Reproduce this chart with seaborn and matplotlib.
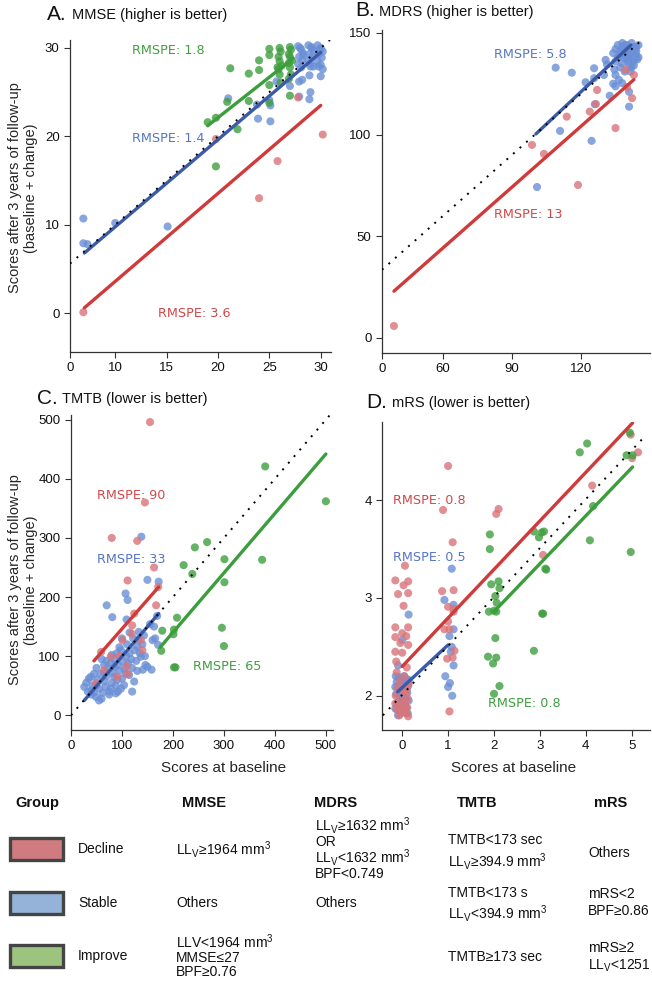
import seaborn as sns
import matplotlib.pyplot as plt
import pandas as pd
import numpy as np
from matplotlib.patches import Rectangle

sns.set_style("ticks")
plt.rcParams['font.family'] = ['Liberation Sans', 'DejaVu Sans']
plt.rcParams['mathtext.fontset'] = 'custom'
plt.rcParams['mathtext.rm'] = 'Liberation Sans'
plt.rcParams['mathtext.it'] = 'Liberation Sans:italic'
plt.rcParams['mathtext.bf'] = 'Liberation Sans:bold'

# ---------------- data ----------------
# A. MMSE
mmse_dec_x = [6.9, 19.8, 24.0, 25.8, 27.8, 30.2]
mmse_dec_y = [0.1, 19.7, 13.0, 17.2, 24.4, 20.2]
mmse_sta_x = [6.9, 6.9, 7.3, 10.0, 15.1, 21.0, 23.9, 23.8, 25.1, 25.1, 25.0, 25.7, 27.0, 27.9, 28.2,
              28.9, 29.0, 27.9, 28.9, 30.0, 29.0, 29.8,
              27.8, 28.1, 28.3, 27.9, 28.2, 27.8, 28.1, 28.0, 28.3,
              28.8, 29.1, 29.3, 28.9, 29.2, 28.8, 29.0, 29.3, 29.1,
              29.7, 30.0, 30.2, 29.8, 30.1, 29.7, 30.0, 30.2, 29.9]
mmse_sta_y = [10.7, 7.9, 7.8, 10.2, 9.8, 24.3, 22.0, 23.6, 23.5, 21.7, 24.1, 26.2, 25.7, 26.2, 26.4,
              24.2, 25.0, 24.5, 26.9, 26.8, 27.9, 27.9,
              30.2, 29.8, 29.4, 29.0, 28.6, 28.2, 27.8, 30.0, 29.2,
              30.3, 30.0, 29.7, 29.3, 29.0, 28.6, 28.2, 27.9, 30.1,
              30.3, 30.0, 29.6, 29.3, 28.9, 28.5, 28.1, 27.6, 29.8]
mmse_imp_x = [19.0, 19.8, 19.8, 20.9, 21.2, 21.9, 23.0, 23.0, 24.0, 24.0, 25.0, 25.0, 25.0, 25.0, 25.8,
              26.0, 26.1, 25.9, 26.0, 26.2, 25.9, 26.0, 26.1,
              27.0, 27.1, 26.9, 27.0, 27.2, 26.9, 27.0, 27.1, 26.9, 27.0]
mmse_imp_y = [21.6, 22.1, 16.6, 23.9, 27.7, 20.8, 27.1, 24.0, 28.6, 27.5, 29.9, 29.2, 23.8, 25.8, 27.8,
              30.0, 29.6, 29.0, 28.5, 28.0, 27.6, 27.0, 26.1,
              30.1, 29.8, 29.3, 29.0, 28.6, 28.3, 27.8, 27.0, 26.5, 24.6]
mmse_fit = {"Decline": ([7, 30], [0.6, 23.5]), "Stable": ([7, 30], [6.8, 29.5]),
            "Improve": ([19, 27.3], [21.2, 28.8])}

# B. MDRS
mdrs_dec_x = [38.7, 98.7, 103.9, 113.8, 118.7, 123.8, 127.0, 126.5, 135.0, 140.0, 142.2, 143.0, 139.4]
mdrs_dec_y = [5.9, 94.9, 90.5, 108.8, 75.2, 111.3, 121.9, 115.0, 103.2, 123.3, 117.9, 129.3, 131.8]
mdrs_sta_x = [100.9, 109.0, 116.0, 122.0, 125.7, 125.7, 130.0, 130.7, 131.3, 126.0, 132.5, 134.0, 135.0,
              136.5, 135.0, 137.9, 140.9, 140.9, 110.9, 124.6,
              134, 135, 136, 137, 138, 139, 140, 141, 142, 143, 144, 145, 135, 136.5, 138, 139.5, 141,
              142.5, 144, 137, 139, 141, 143, 145, 136, 138, 140, 142, 144, 134.5, 137.5, 140.5, 143.5,
              139, 141.5, 144.5, 142, 143, 140, 138.5]
mdrs_sta_y = [74.2, 132.9, 130.4, 125.7, 132.6, 127.7, 129.3, 136.7, 134.5, 114.9, 119.1, 125.0, 129.3,
              126.9, 123.7, 125.3, 113.7, 121.0, 101.8, 96.9,
              140, 142, 138, 141, 143, 139, 144, 142, 140, 143, 141, 144, 136, 138, 135, 137, 139,
              137, 139, 133, 131, 134, 136, 138, 144, 145, 141, 145, 143, 132, 140, 136, 142,
              144, 131, 137, 133, 134, 138, 142]
mdrs_fit = {"Decline": ([38.7, 143], [23, 127]), "Stable": ([100.4, 141.7], [100.3, 144])}

# C. TMTB
tmtb_dec_x = [155, 145, 80, 130, 163, 111, 167, 171, 124, 120, 101, 137, 59, 78, 65, 91, 111, 109, 49, 119, 95, 140]
tmtb_dec_y = [496, 360, 300, 295, 250, 228, 186, 217, 172, 152, 127, 127, 107, 99, 76, 65, 70, 83, 54, 138, 100, 110]
tmtb_sta_x = [138, 150, 172, 107, 111, 70, 81, 109, 163, 165, 171, 146, 158, 141, 169, 155, 133, 160, 98, 130,
              137, 85, 150,
              26, 33, 49, 62, 88, 91, 39, 65, 55, 78, 104, 114, 124, 30, 42, 45, 52, 58, 60, 68, 70, 72, 75,
              80, 82, 85, 88, 92, 95, 98, 100, 102, 105, 108, 110, 112, 115, 118, 120, 122, 125, 128, 132,
              135, 140, 143, 100, 95, 90, 80, 70, 65, 60, 50, 45, 35, 40, 55, 75, 85, 115, 120, 130, 145,
              40, 50, 65, 78, 92, 108]
tmtb_sta_y = [302, 229, 226, 206, 195, 186, 166, 162, 150, 130, 119, 85, 77, 77, 168, 154, 141, 127, 110, 116,
              99, 82, 82,
              48, 40, 31, 38, 37, 60, 65, 57, 45, 45, 51, 68, 57, 55, 50, 38, 60, 70, 28, 48, 66, 80, 35,
              55, 72, 95, 50, 85, 75, 45, 62, 90, 78, 100, 120, 88, 105, 95, 80, 130, 110, 92, 128,
              105, 120, 135, 130, 115, 105, 102, 92, 85, 95, 80, 70, 62, 42, 25, 40, 65, 140, 40, 75, 100,
              35, 50, 72, 88, 40, 70]
tmtb_imp_x = [381, 500, 375, 301, 301, 267, 243, 238, 221, 296, 300, 208, 179, 202, 201, 177, 202, 205]
tmtb_imp_y = [421, 362, 263, 264, 225, 293, 284, 239, 254, 148, 117, 165, 143, 145, 137, 109, 81, 81]
tmtb_fit = {"Decline": ([45, 172], [92, 217]), "Stable": ([26, 172], [25, 172]),
            "Improve": ([175, 500], [115, 442])}

# D. mRS
mrs_dec_x = [-0.15, 0.06, 0.03, 0.13, -0.09, 0.13, 0.03, -0.15, 0.13, 0.0, -0.15, 0.09, -0.04, 0.13, -0.15,
             0.0, -0.13,
             0.10, -0.12, 0.05, -0.05, 0.14, -0.10, 0.02, 0.08, -0.14, 0.12, -0.03, 0.06, -0.08, 0.11,
             -0.12, 0.0, 0.09, -0.06, 0.13, -0.15, 0.04, 0.10,
             1.0, 0.89, 1.1, 0.87, 1.12, 1.0, 1.12, 0.92, 1.03, 1.12, 0.98, 1.1, 1.14, 1.03, 1.0,
             2.1, 2.05, 3.07, 4.14, 4.98, 5.14, 5.01]
mrs_dec_y = [3.18, 3.33, 3.13, 3.17, 3.04, 3.05, 2.92, 2.7, 2.7, 2.64, 2.6, 2.61, 2.54, 2.52, 2.45,
             2.44, 2.35,
             2.29, 2.24, 2.2, 2.15, 2.12, 2.08, 2.05, 2.02, 2.0, 1.97, 1.95, 1.93, 1.9, 1.88,
             1.86, 1.84, 1.82, 1.8, 1.79, 1.92, 1.87, 2.06,
             4.35, 3.9, 3.57, 3.07, 3.08, 2.91, 2.89, 2.68, 2.68, 2.86, 2.38, 2.39, 2.46, 1.84, 2.76,
             3.91, 3.86, 3.44, 4.15, 4.67, 4.49, 4.43]
mrs_sta_x = [-0.14, -0.08, -0.02, 0.04, 0.1, 0.15, -0.12, -0.05, 0.02, 0.08, 0.13, -0.15, -0.1, -0.03,
             0.05, 0.11, -0.13, -0.06, 0.0, 0.07, 0.14, -0.11, -0.04, 0.03, 0.09, -0.15, -0.07, 0.01,
             0.12, -0.09, 0.14, 0.0, -0.09,
             1.08, 1.12, 0.92, 1.12, 1.03, 1.08, 1.12, 0.94, 1.04, 1.0, 1.09, 1.06]
mrs_sta_y = [2.2, 2.19, 2.18, 2.2, 2.17, 2.16, 2.14, 2.13, 2.15, 2.12, 2.1, 2.09, 2.08, 2.06, 2.05,
             2.03, 2.02, 2.0, 1.98, 1.97, 1.95, 1.93, 1.92, 1.9, 1.88, 1.87, 1.85, 1.83, 1.82, 1.8,
             2.83, 2.57, 2.31,
             3.3, 2.93, 2.98, 2.68, 2.61, 2.5, 2.31, 2.2, 2.13, 2.09, 2.0, 2.45]
mrs_imp_x = [1.91, 1.91, 1.94, 2.1, 2.12, 2.03, 2.06, 2.0, 1.89, 2.05, 2.03, 1.87, 2.05, 1.98, 2.12, 2.0,
             2.87, 3.05, 3.07, 2.87, 2.98, 3.04, 3.09, 3.12, 3.14, 3.87, 4.03, 4.16, 4.09, 4.98, 4.96,
             4.89, 5.02]
mrs_imp_y = [3.65, 3.5, 3.14, 3.17, 3.1, 3.02, 2.95, 2.87, 2.86, 2.86, 2.59, 2.4, 2.39, 2.33, 2.1, 2.02,
             2.46, 2.84, 2.84, 3.68, 3.62, 3.67, 3.68, 3.3, 3.29, 4.49, 4.58, 3.94, 3.59, 3.47, 4.69,
             4.46, 4.46]
mrs_fit = {"Decline": ([0, 5.02], [2.3, 4.79]), "Stable": ([-0.1, 1.0], [2.04, 2.52]),
           "Improve": ([2.0, 5.02], [2.86, 4.34])}

# ---------------- styling ----------------
pt_col = {"Stable": "#6a8fd6", "Decline": "#d9757a", "Improve": "#3f9e3f"}
ln_col = {"Stable": "#3b5ba9", "Decline": "#d03a3a", "Improve": "#3b9d3b"}
tx_col = {"Stable": "#5575c5", "Decline": "#d04848", "Improve": "#3f9f3f"}
patch_col = {"Decline": "#cf7b80", "Stable": "#93b3d9", "Improve": "#9cc47f"}

W, H = 652, 981
fig = plt.figure(figsize=(W / 100, H / 100), dpi=100)

# overlay in pixel coords for free text and the table
ov = fig.add_axes([0, 0, 1, 1])
ov.set_xlim(0, W)
ov.set_ylim(H, 0)
ov.axis("off")


def px_axes(l, t, r, b):
    return fig.add_axes([l / W, 1 - b / H, (r - l) / W, (b - t) / H])


def panel(ax, groups, fit, ident, xlim, ylim, xticks, xlabels, yticks, notes):
    frames = [pd.DataFrame({"x": gx, "y": gy, "group": g}) for g, gx, gy in groups]
    df = pd.concat(frames, ignore_index=True)
    sns.scatterplot(data=df, x="x", y="y", hue="group", palette=pt_col, s=34, alpha=0.8,
                    linewidth=0, legend=False, ax=ax, zorder=2)
    for g, (fx, fy) in fit.items():
        sns.lineplot(x=fx, y=fy, color=ln_col[g], lw=2.4, ax=ax, zorder=3)
    ax.plot(ident[0], ident[1], color="black", linestyle=(0, (1, 3.5)), lw=1.4, zorder=4)
    for g, x, y, txt in notes:
        ax.text(x, y, txt, color=tx_col[g], fontsize=9.2, family="DejaVu Sans", va="center", ha="left")
    ax.set_xlim(xlim)
    ax.set_ylim(ylim)
    ax.set_xticks(xticks)
    ax.set_xticklabels(xlabels)
    ax.set_yticks(yticks)
    ax.set_xlabel("")
    ax.set_ylabel("")
    sns.despine(ax=ax)
    for s in ["left", "bottom"]:
        ax.spines[s].set_color("#333333")
        ax.spines[s].set_linewidth(0.9)
    ax.tick_params(labelsize=9.5, length=4, width=0.8, color="#333333", labelcolor="#111111")
    ax.patch.set_alpha(0)


axA = px_axes(70, 40, 331, 352)
panel(axA, [("Stable", mmse_sta_x, mmse_sta_y), ("Decline", mmse_dec_x, mmse_dec_y),
            ("Improve", mmse_imp_x, mmse_imp_y)], mmse_fit, ([5.6, 30.9], [5.6, 30.9]),
      (5.6, 31), (-4.4, 30.9), [5.6, 10, 15, 20, 25, 30], ["0", "10", "15", "20", "25", "30"],
      [0, 10, 20, 30],
      [("Improve", 11.6, 29.7, "RMSPE: 1.8"), ("Stable", 11.6, 19.8, "RMSPE: 1.4"),
       ("Decline", 14.2, 0.0, "RMSPE: 3.6")])

axB = px_axes(382, 30, 650, 353)
panel(axB, [("Stable", mdrs_sta_x, mdrs_sta_y), ("Decline", mdrs_dec_x, mdrs_dec_y)],
      mdrs_fit, ([33.5, 147], [33.5, 147]),
      (33.5, 150), (-7.4, 151.4), [33.5, 60, 90, 120], ["0", "60", "90", "120"], [0, 50, 100, 150],
      [("Stable", 82.2, 139.6, "RMSPE: 5.8"), ("Decline", 82.2, 60.5, "RMSPE: 13")])

axC = px_axes(71, 415, 333, 730)
panel(axC, [("Stable", tmtb_sta_x, tmtb_sta_y), ("Decline", tmtb_dec_x, tmtb_dec_y),
            ("Improve", tmtb_imp_x, tmtb_imp_y)], tmtb_fit, ([0, 512], [0, 512]),
      (0, 514), (-25, 508), [0, 100, 200, 300, 400, 500], ["0", "100", "200", "300", "400", "500"],
      [0, 100, 200, 300, 400, 500],
      [("Decline", 51, 371, "RMSPE: 90"), ("Stable", 51, 263, "RMSPE: 33"),
       ("Improve", 240, 83, "RMSPE: 65")])

axD = px_axes(382, 422, 650, 730)
panel(axD, [("Stable", mrs_sta_x, mrs_sta_y), ("Decline", mrs_dec_x, mrs_dec_y),
            ("Improve", mrs_imp_x, mrs_imp_y)], mrs_fit, ([-0.42, 5.3], [1.8, 4.66]),
      (-0.44, 5.4), (1.65, 4.8), [0, 1, 2, 3, 4, 5], ["0", "1", "2", "3", "4", "5"], [2, 3, 4],
      [("Decline", -0.2, 4.0, "RMSPE: 0.8"), ("Stable", -0.2, 3.41, "RMSPE: 0.5"),
       ("Improve", 1.88, 1.92, "RMSPE: 0.8")])

# panel titles
for letter, lx, tx, ty, title in [("A.", 47, 72, 13, "MMSE (higher is better)"),
                                  ("B.", 355, 379, 10, "MDRS (higher is better)"),
                                  ("C.", 37, 62, 397, "TMTB (lower is better)"),
                                  ("D.", 366, 392, 401, "mRS (lower is better)")]:
    ov.text(lx, ty + 1, letter, fontsize=15, ha="left", va="center", color="#111111")
    ov.text(tx, ty + 2, title, fontsize=10.5, ha="left", va="center", color="#111111")

ylab = "Scores after 3 years of follow-up\n(baseline + change)"
ov.text(23, 188, ylab, rotation=90, ha="center", va="center", fontsize=10.5, multialignment="center")
ov.text(23, 580, ylab, rotation=90, ha="center", va="center", fontsize=10.5, multialignment="center")
ov.text(224, 768, "Scores at baseline", ha="center", va="center", fontsize=11)
ov.text(514, 768, "Scores at baseline", ha="center", va="center", fontsize=11)

# ---------------- criteria table ----------------
headers = [("Group", 15, "left"), ("MMSE", 204, "center"), ("MDRS", 336, "center"),
           ("TMTB", 477, "center"), ("mRS", 611, "center")]
for h, x, ha in headers:
    ov.text(x, 803, h, fontsize=10.5, fontweight="bold", ha=ha, va="center", color="#111111")

row_y = {"Decline": 849, "Stable": 903, "Improve": 956}
for g, y in row_y.items():
    ov.add_patch(Rectangle((10, y - 11), 53, 22, facecolor=patch_col[g], edgecolor="#444444", lw=2.4))
    ov.text(78, y, g, fontsize=10, ha="left", va="center", color="#111111")

LLV = r"LL$_{\rm V}$"
table_cells = [
    (176, 849, LLV + r"≥1964 mm$^3$"),
    (176, 903, "Others"),
    (176, 942, r"LLV<1964 mm$^3$"),
    (176, 958, "MMSE≤27"),
    (176, 972, "BPF≥0.76"),
    (315, 826, LLV + r"≥1632 mm$^3$"),
    (315, 842, "OR"),
    (315, 858, LLV + r"<1632 mm$^3$"),
    (315, 874, "BPF<0.749"),
    (315, 903, "Others"),
    (448, 840, "TMTB<173 sec"),
    (448, 862, LLV + r"≥394.9 mm$^3$"),
    (448, 893, "TMTB<173 s"),
    (448, 913, LLV + r"<394.9 mm$^3$"),
    (448, 957, "TMTB≥173 sec"),
    (588, 853, "Others"),
    (588, 894, "mRS<2"),
    (588, 911, "BPF≥0.86"),
    (588, 948, "mRS≥2"),
    (588, 966, LLV + "<1251"),
]
for x, y, t in table_cells:
    ov.text(x, y, t, fontsize=10, ha="left", va="center", color="#111111")

plt.savefig("out.png", dpi=100)
